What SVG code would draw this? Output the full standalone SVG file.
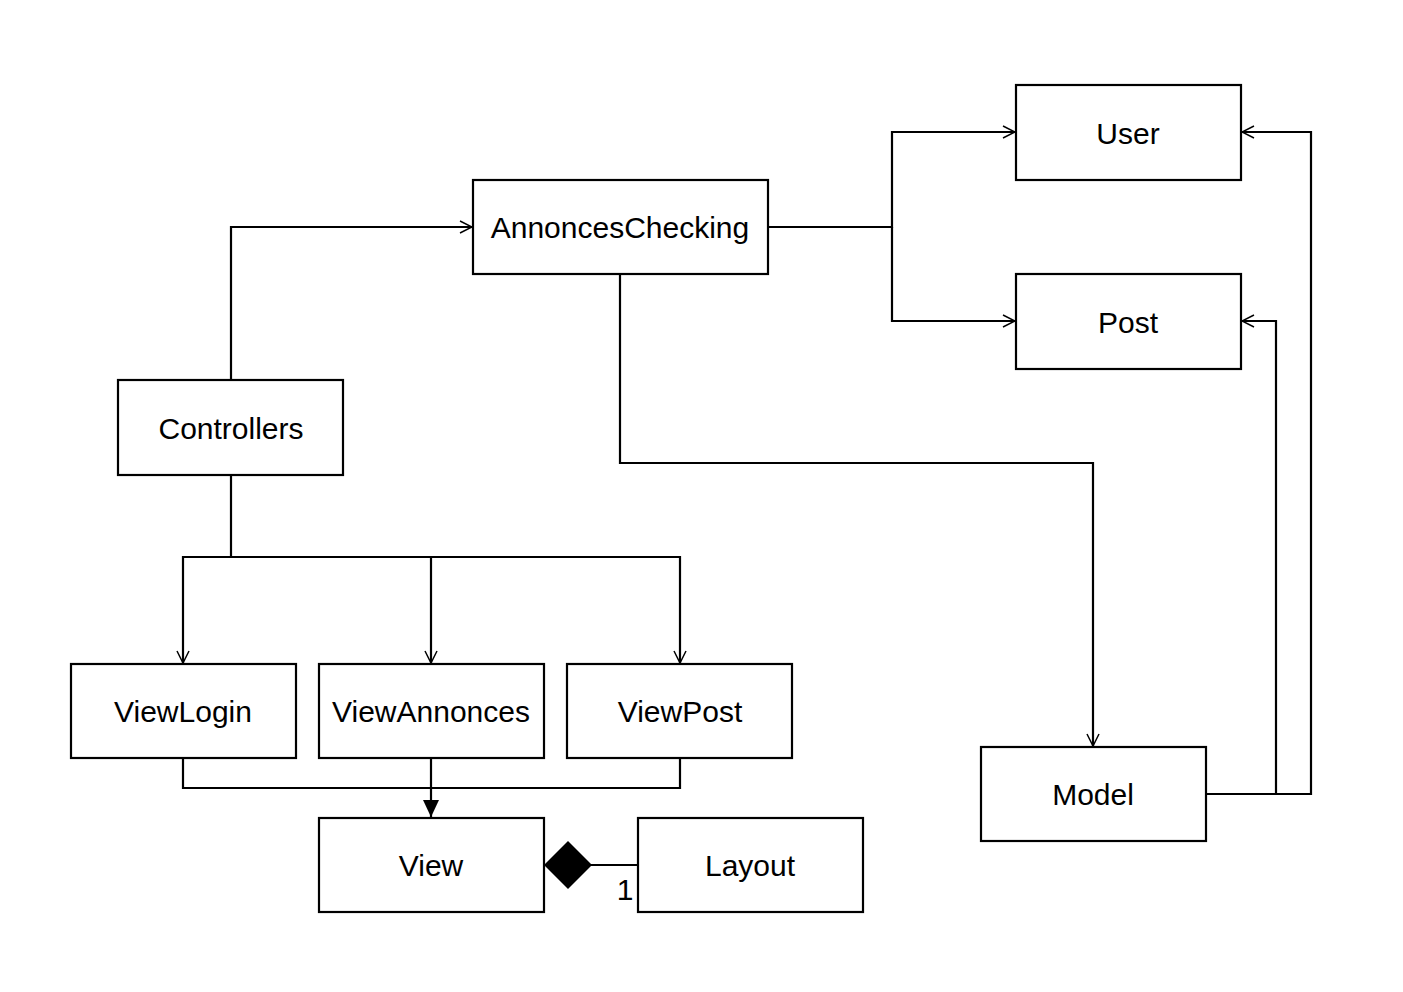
<svg xmlns="http://www.w3.org/2000/svg" width="1403" height="992" viewBox="0 0 1403 992">
<style>
.box{fill:#fff;stroke:#000;stroke-width:2.2}
.lbl{font-family:"Liberation Sans",Arial,sans-serif;font-size:30px;fill:#000;text-anchor:middle;dominant-baseline:central}
.ln{fill:none;stroke:#000;stroke-width:2.2}
</style>
<defs>
<marker id="open" viewBox="0 0 14 14" refX="13" refY="7" markerWidth="14" markerHeight="14" markerUnits="userSpaceOnUse" orient="auto">
<path d="M1,1 L13,7 L1,13" fill="none" stroke="#000" stroke-width="1.5"/>
</marker>
<marker id="filled" viewBox="0 0 18 16" refX="17" refY="8" markerWidth="18" markerHeight="16" markerUnits="userSpaceOnUse" orient="auto">
<path d="M0,0 L17,8 L0,16 Z" fill="#000"/>
</marker>
</defs>
<rect width="1403" height="992" fill="#fff"/>
<g id="connectors">
<path class="ln" d="M231,380 V227 H472" marker-end="url(#open)"/>
<path class="ln" d="M768,227 H892 V132 H1015" marker-end="url(#open)"/>
<path class="ln" d="M892,227 V321 H1015" marker-end="url(#open)"/>
<path class="ln" d="M620,274 V463 H1093 V746" marker-end="url(#open)"/>
<path class="ln" d="M231,475 V557 H183 V663" marker-end="url(#open)"/>
<path class="ln" d="M231,557 H431 V663" marker-end="url(#open)"/>
<path class="ln" d="M431,557 H680 V663" marker-end="url(#open)"/>
<path class="ln" d="M183,758 V788 H680 V758"/>
<path class="ln" d="M431,758 V817" marker-end="url(#filled)"/>
<path class="ln" d="M1206,794 H1311 V132 H1242" marker-end="url(#open)"/>
<path class="ln" d="M1276,794 V321 H1242" marker-end="url(#open)"/>
<path class="ln" d="M591,865 H638"/>
<path d="M544,865 L568,841 L592,865 L568,889 Z" fill="#000"/>
<text class="lbl" x="625" y="889" font-size="28">1</text>
</g>
<g id="User"><rect class="box" x="1016" y="85" width="225" height="95"/><text class="lbl" x="1128" y="133">User</text></g>
<g id="Post"><rect class="box" x="1016" y="274" width="225" height="95"/><text class="lbl" x="1128" y="322">Post</text></g>
<g id="AnnoncesChecking"><rect class="box" x="473" y="180" width="295" height="94"/><text class="lbl" x="620" y="227">AnnoncesChecking</text></g>
<g id="Controllers"><rect class="box" x="118" y="380" width="225" height="95"/><text class="lbl" x="231" y="428">Controllers</text></g>
<g id="ViewLogin"><rect class="box" x="71" y="664" width="225" height="94"/><text class="lbl" x="183" y="711">ViewLogin</text></g>
<g id="ViewAnnonces"><rect class="box" x="319" y="664" width="225" height="94"/><text class="lbl" x="431" y="711">ViewAnnonces</text></g>
<g id="ViewPost"><rect class="box" x="567" y="664" width="225" height="94"/><text class="lbl" x="680" y="711">ViewPost</text></g>
<g id="View"><rect class="box" x="319" y="818" width="225" height="94"/><text class="lbl" x="431" y="865">View</text></g>
<g id="Layout"><rect class="box" x="638" y="818" width="225" height="94"/><text class="lbl" x="750" y="865">Layout</text></g>
<g id="Model"><rect class="box" x="981" y="747" width="225" height="94"/><text class="lbl" x="1093" y="794">Model</text></g>
</svg>
